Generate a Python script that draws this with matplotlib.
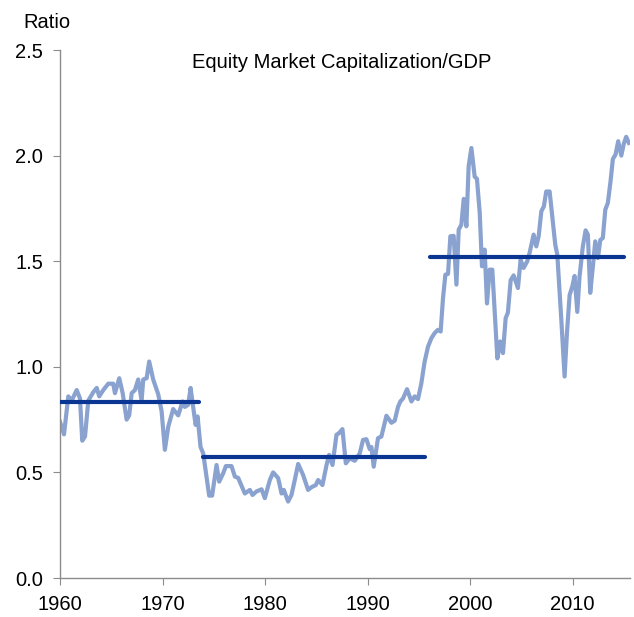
import matplotlib
matplotlib.use('Agg')
import matplotlib.pyplot as plt

# equity market cap / GDP
years = [1960.00, 1960.39, 1960.81, 1961.14, 1961.63, 1961.95, 1962.17, 1962.44, 1962.76, 1963.25,
         1963.58, 1963.83, 1964.22, 1964.71, 1965.19, 1965.36, 1965.78, 1966.11, 1966.50, 1966.75,
         1966.99, 1967.31, 1967.63, 1967.96, 1968.12, 1968.45, 1968.70, 1969.09, 1969.58, 1969.91,
         1970.23, 1970.56, 1971.04, 1971.53, 1971.96, 1972.18, 1972.50, 1972.74, 1972.93, 1973.23,
         1973.42, 1973.71, 1973.97, 1974.23, 1974.55, 1974.84, 1975.27, 1975.53, 1975.92, 1976.18,
         1976.73, 1977.06, 1977.38, 1978.03, 1978.52, 1978.78, 1979.17, 1979.66, 1979.98, 1980.47,
         1980.79, 1981.28, 1981.61, 1981.83, 1982.25, 1982.58, 1982.90, 1983.23, 1983.71, 1984.20,
         1984.53, 1984.95, 1985.18, 1985.60, 1986.00, 1986.25, 1986.58, 1986.97, 1987.22, 1987.55,
         1987.88, 1988.27, 1988.75, 1989.24, 1989.56, 1989.89, 1990.21, 1990.38, 1990.60, 1991.02,
         1991.35, 1991.84, 1992.33, 1992.65, 1992.97, 1993.20, 1993.46, 1993.85, 1994.28, 1994.60,
         1994.92, 1995.25, 1995.57, 1995.90, 1996.23, 1996.55, 1996.87, 1997.13, 1997.36, 1997.59,
         1997.85, 1998.08, 1998.40, 1998.67, 1998.89, 1999.15, 1999.38, 1999.64, 1999.86, 2000.13,
         2000.45, 2000.67, 2000.94, 2001.16, 2001.42, 2001.65, 2001.91, 2002.17, 2002.66, 2002.95,
         2003.21, 2003.47, 2003.69, 2003.96, 2004.25, 2004.67, 2004.93, 2005.22, 2005.58, 2005.81,
         2006.20, 2006.46, 2006.69, 2006.95, 2007.20, 2007.43, 2007.76, 2008.02, 2008.31, 2008.51,
         2008.90, 2009.22, 2009.45, 2009.71, 2009.97, 2010.19, 2010.46, 2010.68, 2011.00, 2011.27,
         2011.49, 2011.72, 2011.98, 2012.21, 2012.47, 2012.70, 2012.95, 2013.19, 2013.44, 2013.70,
         2013.93, 2014.19, 2014.45, 2014.75, 2015.00, 2015.23, 2015.49]
ratio = [0.74, 0.68, 0.86, 0.84, 0.89, 0.85, 0.65, 0.67, 0.84, 0.88,
         0.90, 0.86, 0.89, 0.92, 0.92, 0.875, 0.946, 0.876, 0.75, 0.77,
         0.875, 0.89, 0.94, 0.84, 0.94, 0.946, 1.025, 0.94, 0.87, 0.79,
         0.607, 0.717, 0.80, 0.77, 0.836, 0.81, 0.82, 0.90, 0.83, 0.725,
         0.765, 0.62, 0.59, 0.50, 0.39, 0.39, 0.535, 0.456, 0.496, 0.53,
         0.53, 0.48, 0.474, 0.40, 0.417, 0.393, 0.41, 0.42, 0.378, 0.464,
         0.50, 0.473, 0.40, 0.417, 0.362, 0.393, 0.464, 0.54, 0.488, 0.417,
         0.43, 0.44, 0.464, 0.44, 0.535, 0.583, 0.535, 0.678, 0.686, 0.705,
         0.543, 0.567, 0.555, 0.59, 0.654, 0.657, 0.61, 0.62, 0.527, 0.662,
         0.67, 0.768, 0.735, 0.745, 0.81, 0.836, 0.85, 0.894, 0.836, 0.86,
         0.847, 0.923, 1.025, 1.096, 1.136, 1.16, 1.175, 1.167, 1.325, 1.436,
         1.44, 1.618, 1.62, 1.389, 1.649, 1.673, 1.795, 1.665, 1.95, 2.036,
         1.90, 1.89, 1.73, 1.476, 1.555, 1.30, 1.46, 1.46, 1.04, 1.12,
         1.065, 1.23, 1.257, 1.41, 1.433, 1.373, 1.507, 1.468, 1.50, 1.54,
         1.626, 1.57, 1.618, 1.736, 1.76, 1.83, 1.83, 1.71, 1.578, 1.53,
         1.223, 0.954, 1.16, 1.34, 1.38, 1.43, 1.26, 1.428, 1.57, 1.646,
         1.626, 1.35, 1.475, 1.594, 1.515, 1.60, 1.61, 1.744, 1.776, 1.878,
         1.984, 2.005, 2.068, 2.0, 2.057, 2.089, 2.06]

# regime averages
regime_start = [1960.0, 1973.95, 1996.05]
regime_end = [1973.55, 1995.65, 2015.05]
regime_mean = [0.834, 0.573, 1.52]

plt.rcParams['font.family'] = ['Liberation Sans', 'DejaVu Sans']

fig = plt.figure(figsize=(6.34, 6.17), dpi=100)
ax = fig.add_axes([60/634, 1 - 578/617, 570/634, 528/617])

ax.plot(years, ratio, color='#8aa2cf', lw=3, solid_joinstyle='round', zorder=2)
for s, e, m in zip(regime_start, regime_end, regime_mean):
    ax.plot([s, e], [m, m], color='#0b3592', lw=3, solid_capstyle='round', zorder=3)

ax.set_xlim(1960, 2015.6)
ax.set_ylim(0, 2.5)
ax.set_xticks([1960, 1970, 1980, 1990, 2000, 2010])
ax.set_yticks([0.0, 0.5, 1.0, 1.5, 2.0, 2.5])
ax.yaxis.set_major_formatter(matplotlib.ticker.FormatStrFormatter('%.1f'))

for side in ['top', 'right']:
    ax.spines[side].set_visible(False)
for side in ['left', 'bottom']:
    ax.spines[side].set_color('#8c8c8c')
    ax.spines[side].set_linewidth(1)
ax.tick_params(axis='both', direction='out', length=5, color='#8c8c8c', labelsize=14.5, labelcolor='black')
ax.tick_params(axis='y', pad=7)
ax.tick_params(axis='x', pad=7)

fig.text(342/634, 1 - 63/617, 'Equity Market Capitalization/GDP', ha='center', va='center', fontsize=14.5)
fig.text(23/634, 1 - 22/617, 'Ratio', ha='left', va='center', fontsize=14.5)

fig.savefig('out.png', dpi=100)
